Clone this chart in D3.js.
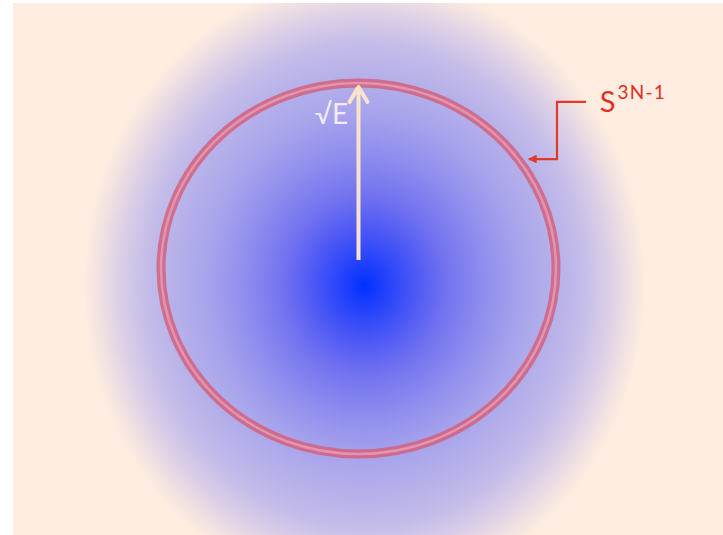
<!DOCTYPE html>
<html>
<head>
<meta charset="utf-8">
<script src="https://cdn.jsdelivr.net/npm/d3@7"></script>
<style>
html,body{margin:0;padding:0;background:#ffffff;}
svg{display:block;}
</style>
</head>
<body>
<svg id="chart" width="723" height="535"></svg>
<script>
// ---- data (diagram coordinates: sphere radius = 1) ----
const sphereCenter = [0, 0];
const sphereRadius = [1, 1];
const arrowFrom = [0, 0.046];
const arrowTo = [0, 0.989];
const arrowLabel = ["√E"];
const sphereLabel = ["S", "3N-1"];
const leaderPath = [[1.152, 0.898], [1.005, 0.898], [1.005, 0.59], [0.862, 0.59]];
const glowCenter = [0.03, -0.09];
const glowStops = [0, 0.072, 0.18, 0.29, 0.43, 0.57, 0.68, 0.78, 0.87, 0.95, 1];
const glowColors = ["#0030ff", "#2040fc", "#4c58f5", "#7272f0", "#908eee", "#a9a5ec", "#b6b0ea", "#c4bce9", "#dacee7", "#f1e1e2", "#fdecdf"];

const svg = d3.select("#chart");
const W = 723, H = 535;

const x = d3.scaleLinear().domain([-1, 1]).range([161, 556]);
const y = d3.scaleLinear().domain([-1, 1]).range([454, 83]);

const defs = svg.append("defs");
const gcx = x(glowCenter[0]), gcy = y(glowCenter[1]);
const grad = defs.append("radialGradient")
  .attr("id", "glow").attr("gradientUnits", "userSpaceOnUse")
  .attr("cx", gcx).attr("cy", gcy).attr("r", 280)
  .attr("gradientTransform", `translate(${gcx},${gcy}) scale(1,1.1) translate(${-gcx},${-gcy})`);
grad.selectAll("stop").data(glowStops).join("stop")
  .attr("offset", d => d)
  .attr("stop-color", (d, i) => glowColors[i]);

const blur = defs.append("filter").attr("id", "soft").attr("x", "-10%").attr("y", "-10%").attr("width", "120%").attr("height", "120%");
blur.append("feGaussianBlur").attr("stdDeviation", 0.7);

const mk = defs.append("marker").attr("id", "leadArrow")
  .attr("viewBox", "0 0 10 10").attr("refX", 9).attr("refY", 5)
  .attr("markerWidth", 4).attr("markerHeight", 4).attr("orient", "auto");
mk.append("path").attr("d", "M0,0L10,5L0,10z").attr("fill", "#e03a2a");

// background
svg.append("rect").attr("x", 13).attr("y", 3).attr("width", W - 13).attr("height", H - 3)
  .attr("fill", "#fdecdf");
svg.append("rect").attr("x", 13).attr("y", 3).attr("width", W - 13).attr("height", H - 3)
  .attr("fill", "url(#glow)");

// sphere ring
const ring = svg.append("g").attr("filter", "url(#soft)");
const rx = x(sphereRadius[0]) - x(0), ry = y(0) - y(sphereRadius[1]);
ring.append("ellipse")
  .attr("cx", x(sphereCenter[0])).attr("cy", y(sphereCenter[1]))
  .attr("rx", rx).attr("ry", ry)
  .attr("fill", "none").attr("stroke", "#d2607c").attr("stroke-opacity", 0.85).attr("stroke-width", 9);
ring.append("ellipse")
  .attr("cx", x(sphereCenter[0])).attr("cy", y(sphereCenter[1]))
  .attr("rx", rx).attr("ry", ry)
  .attr("fill", "none").attr("stroke", "#e394b0").attr("stroke-width", 2.5);

// arrow (sqrt E)
const ax0 = x(arrowFrom[0]), ay0 = y(arrowFrom[1]);
const ax1 = x(arrowTo[0]), ay1 = y(arrowTo[1]);
svg.append("line").attr("x1", ax0).attr("y1", ay0).attr("x2", ax1).attr("y2", ay1 + 2)
  .attr("stroke", "#fbe2cb").attr("stroke-width", 4);
svg.append("path")
  .attr("d", `M${ax1 - 9},${ay1 + 17}L${ax1},${ay1 + 2}L${ax1 + 9},${ay1 + 17}`)
  .attr("fill", "none").attr("stroke", "#fbe2cb").attr("stroke-width", 4)
  .attr("stroke-linecap", "round").attr("stroke-linejoin", "round");

svg.append("text").text(arrowLabel[0])
  .attr("x", ax1 - 44).attr("y", 124)
  .attr("font-family", "Lato, 'Open Sans', sans-serif").attr("font-size", 28)
  .attr("fill", "#f3ebf4");

// leader to ring
svg.append("path")
  .attr("d", d3.line().x(d => x(d[0])).y(d => y(d[1]))(leaderPath))
  .attr("fill", "none").attr("stroke", "#e03a2a").attr("stroke-width", 2.2)
  .attr("marker-end", "url(#leadArrow)");

const lbl = svg.append("text")
  .attr("x", x(1.222)).attr("y", 112)
  .attr("font-family", "Lato, 'Open Sans', sans-serif").attr("fill", "#e0301f");
lbl.append("tspan").text(sphereLabel[0]).attr("font-size", 29);
lbl.append("tspan").text(sphereLabel[1]).attr("font-size", 19).attr("letter-spacing", 1.2)
  .attr("dx", 2).attr("dy", -13);
</script>
</body>
</html>
